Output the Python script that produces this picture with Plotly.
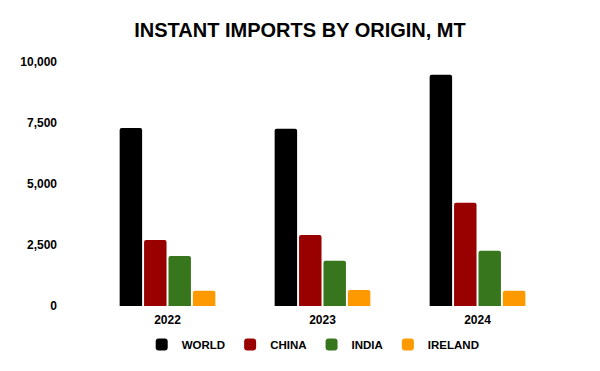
import plotly.graph_objects as go

years = ["2022", "2023", "2024"]
world = [7300, 7260, 9480]
china = [2710, 2910, 4230]
india = [2050, 1850, 2260]
ireland = [630, 660, 620]

series = [("WORLD", world, "#000000"), ("CHINA", china, "#990000"),
          ("INDIA", india, "#38761d"), ("IRELAND", ireland, "#ff9900")]

fig = go.Figure()
for name, vals, col in series:
    fig.add_trace(go.Bar(x=years, y=vals, name=name, marker_color=col,
                         marker_line_width=0))

fig.update_layout(
    width=600, height=371,
    margin=dict(l=90, r=45, t=62, b=65, autoexpand=False),
    paper_bgcolor="white", plot_bgcolor="white",
    barmode="group", bargap=0.37, bargroupgap=0.08, barcornerradius=2,
    title=dict(text="<b>INSTANT IMPORTS BY ORIGIN, MT</b>", x=0.5, xanchor="center",
               y=0.92, yanchor="middle",
               font=dict(family="Liberation Sans, Arial", size=20, color="#000000")),
    font=dict(family="Liberation Sans, Arial", size=12, color="#000000"),
    legend=dict(orientation="h", x=0.48, xanchor="center", y=-0.098, yanchor="top",
                font=dict(size=11.5, color="#000000", weight="bold"),
                itemwidth=30, traceorder="normal"),
    xaxis=dict(showgrid=False, showline=False, ticks="", automargin=False,
               ticklabelstandoff=5,
               tickfont=dict(size=12, color="#000000", weight="bold")),
    yaxis=dict(range=[0, 10000], tickvals=[0, 2500, 5000, 7500, 10000],
               tickformat=",d", showgrid=False, showline=False, zeroline=False,
               ticklabelstandoff=32, automargin=False,
               tickfont=dict(size=12, color="#000000", weight="bold")),
)

fig.write_html("out.html")
